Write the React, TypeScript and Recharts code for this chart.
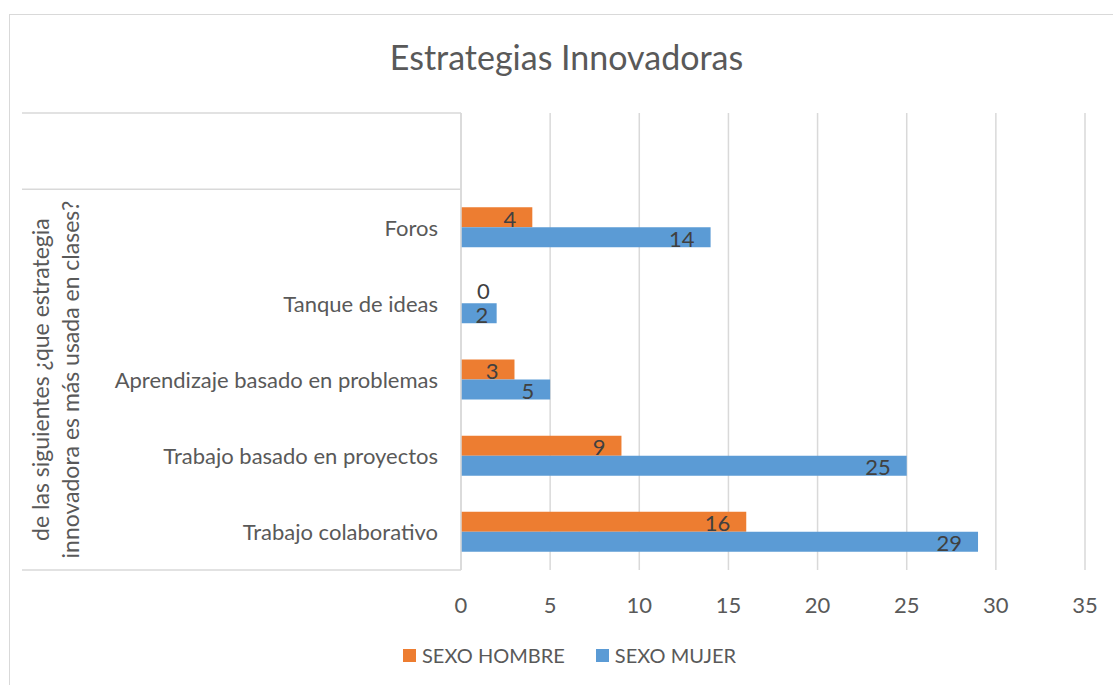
import React from "react";
import { BarChart, Bar, XAxis, YAxis, CartesianGrid, Legend, LabelList, Rectangle } from "recharts";

const categories = ["", "Foros", "Tanque de ideas", "Aprendizaje basado en problemas", "Trabajo basado en proyectos", "Trabajo colaborativo"];
const hombre: (number | null)[] = [null, 4, 0, 3, 9, 16];
const mujer: (number | null)[] = [null, 14, 2, 5, 25, 29];
const xTicks = [0, 5, 10, 15, 20, 25, 30, 35];
const seriesNames = ["SEXO HOMBRE", "SEXO MUJER"];
const axisTitleLines = ["de las siguientes ¿que estrategia", "innovadora es más usada en clases?"];
const chartTitle = "Estrategias Innovadoras";

const COLORS = ["#ED7D31", "#5B9BD5"];
const FONT = "Lato, 'Noto Sans', sans-serif";
const TEXT = "#595959";
const GRID = "#d9d9d9";

const data = categories.map((name, i) => ({ name, hombre: hombre[i], mujer: mujer[i] }));

const YTick = (props: any) => {
  const { x, y, payload, index } = props;
  const half = payload?.offset ?? 38;
  const leftX = 22;
  const n = categories.length;
  const groupCount = n - 1;
  return (
    <g>
      <text x={x - 23} y={y} textAnchor="end" dominantBaseline="central" fontFamily={FONT} fontSize={22} fill={TEXT}>
        {payload.value}
      </text>
      {index === 0 && (
        <>
          <line x1={leftX} x2={x} y1={y - half} y2={y - half} stroke={GRID} strokeWidth={1.5} />
          <line x1={leftX} x2={x} y1={y + half} y2={y + half} stroke={GRID} strokeWidth={1.5} />
        </>
      )}
      {index === n - 1 && (
        <>
          <line x1={leftX} x2={x} y1={y + half} y2={y + half} stroke={GRID} strokeWidth={1.5} />
          {axisTitleLines.map((t, k) => {
            const cy = y + half - groupCount * half;
            const cx = 40 + k * 30;
            return (
              <text key={k} x={cx} y={cy} transform={`rotate(-90 ${cx} ${cy})`} textAnchor="middle" dominantBaseline="central" fontFamily={FONT} fontSize={23} fill={TEXT}>
                {t}
              </text>
            );
          })}
        </>
      )}
    </g>
  );
};

const XTick = (props: any) => {
  const { x, y, payload } = props;
  return (
    <text x={x} y={y + 34} textAnchor="middle" dominantBaseline="central" fontFamily={FONT} fontSize={22} fill={TEXT}>
      {payload.value}
    </text>
  );
};

const BarLabel = (props: any) => {
  const { x, y, width, height, value } = props;
  if (value === null || value === undefined) return null;
  let cy = y + height / 2 + 1;
  let tx: number;
  let anchor: "start" | "middle" | "end";
  if (value === 0) {
    tx = x + 16;
    anchor = "start";
    cy -= 4;
  } else if (width < 45) {
    tx = x + width / 2 + 3;
    anchor = "middle";
  } else {
    tx = x + width - 16;
    anchor = "end";
  }
  return (
    <text x={tx} y={cy} textAnchor={anchor} dominantBaseline="central" fontFamily={FONT} fontSize={22} fill="#404040">
      {value}
    </text>
  );
};

const LegendContent = () => (
  <div style={{ display: "flex", justifyContent: "center", alignItems: "center", height: 30, marginLeft: 54, fontFamily: FONT, fontSize: 20, color: TEXT }}>
    {seriesNames.map((n, i) => (
      <div key={n} style={{ display: "flex", alignItems: "center", marginLeft: i === 0 ? 0 : 31 }}>
        <span style={{ display: "inline-block", width: 13, height: 13, background: COLORS[i], marginRight: 6 }} />
        <span>{n}</span>
      </div>
    ))}
  </div>
);

export default function App() {
  return (
    <div style={{ position: "absolute", left: 0, top: 0, width: 1113, height: 685, overflow: "hidden", background: "#fff" }}>
      <div style={{ position: "absolute", left: 9, top: 14, width: 1300, height: 900, border: `1.5px solid ${GRID}`, boxSizing: "border-box" }} />
      <div style={{ position: "absolute", left: 0, top: 36, width: 1133, textAlign: "center", fontFamily: FONT, fontSize: 34, color: TEXT }}>
        {chartTitle}
      </div>
      <div style={{ position: "absolute", left: 0, top: 0 }}>
        <BarChart width={1113} height={685} data={data} layout="vertical" margin={{ top: 113, right: 28, bottom: 40, left: 0 }} barGap={0} barSize={20}>
          <CartesianGrid horizontal={false} stroke={GRID} strokeWidth={1.5} />
          <XAxis type="number" domain={[0, 35]} ticks={xTicks} axisLine={false} tickLine={false} tickSize={0} tickMargin={0} height={45} tick={<XTick />} interval={0} />
          <YAxis type="category" dataKey="name" width={461} axisLine={{ stroke: GRID, strokeWidth: 1.5 }} tickLine={false} tickSize={0} tickMargin={0} tick={<YTick />} interval={0} />
          <Legend verticalAlign="bottom" content={<LegendContent />} wrapperStyle={{ bottom: 15 }} />
          <Bar dataKey="hombre" name={seriesNames[0]} fill={COLORS[0]} isAnimationActive={false} minPointSize={(v: any) => (v === 0 ? 1 : 0)} shape={(p: any) => (p.width <= 1.01 ? <g /> : <Rectangle {...p} />)}>
            <LabelList dataKey="hombre" content={<BarLabel />} />
          </Bar>
          <Bar dataKey="mujer" name={seriesNames[1]} fill={COLORS[1]} isAnimationActive={false}>
            <LabelList dataKey="mujer" content={<BarLabel />} />
          </Bar>
        </BarChart>
      </div>
    </div>
  );
}
